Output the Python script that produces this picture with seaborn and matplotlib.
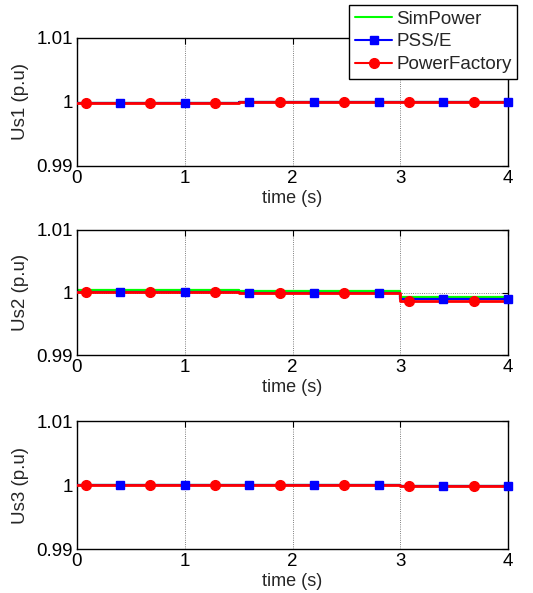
import numpy as np
import pandas as pd
import seaborn as sns
import matplotlib.pyplot as plt
from matplotlib.lines import Line2D

# ---- data ----
seg_edges = [0.0, 1.5, 3.0, 4.0]          # step boundaries (s)

us1_sim = [0.99990, 0.99993, 0.99993]
us1_pss = [0.99985, 1.00000, 1.00000]
us1_pf  = [0.99985, 1.00000, 1.00000]

us2_sim = [1.00035, 1.00022, 0.99930]
us2_pss = [1.00010, 0.99985, 0.99895]
us2_pf  = [1.00005, 0.99985, 0.99865]

us3_sim = [0.99995, 0.99995, 0.99990]
us3_pss = [1.00000, 1.00000, 0.99985]
us3_pf  = [1.00000, 1.00000, 0.99990]

pss_marker_t = [0.4, 1.0, 1.6, 2.2, 2.8, 3.4, 4.0]
pf_marker_t  = [0.08, 0.68, 1.28, 1.88, 2.48, 3.08, 3.68]

ylabels = ["Us1 (p.u)", "Us2 (p.u)", "Us3 (p.u)"]
series_names = ["SimPower", "PSS/E", "PowerFactory"]
xticks = [0, 1, 2, 3, 4]
yticks = [0.99, 1.0, 1.01]
yticklabels = ["0.99", "1", "1.01"]

buses = [(us1_sim, us1_pss, us1_pf), (us2_sim, us2_pss, us2_pf), (us3_sim, us3_pss, us3_pf)]

# ---- style ----
sns.set_style("white")
plt.rcParams['font.family'] = ['Liberation Sans', 'DejaVu Sans']
plt.rcParams['font.size'] = 13

fig = plt.figure(figsize=(5.33, 5.93), dpi=100)
left, width = 77 / 533, (508 - 77) / 533
rows = [(166, 128), (355, 125), (549, 128)]

colors = {"SimPower": "#00ff00", "PSS/E": "#0000ff", "PowerFactory": "#ff0000"}


def step_frame(levels):
    return pd.DataFrame({"t": seg_edges, "v": list(levels) + [levels[-1]]})


def marker_frame(times, levels):
    idx = np.clip(np.searchsorted(seg_edges, times, side="right") - 1, 0, len(levels) - 1)
    return pd.DataFrame({"t": times, "v": np.asarray(levels)[idx]})


axes = []
for i, (bottom_px, h_px) in enumerate(rows):
    ax = fig.add_axes([left, 1 - bottom_px / 593, width, h_px / 593])
    axes.append(ax)
    sim, pss, pf = buses[i]
    sns.lineplot(data=step_frame(sim), x="t", y="v", ax=ax, color=colors["SimPower"],
                 lw=1.6, drawstyle="steps-post", zorder=2)
    sns.lineplot(data=step_frame(pss), x="t", y="v", ax=ax, color=colors["PSS/E"],
                 lw=1.6, drawstyle="steps-post", zorder=3)
    sns.lineplot(data=step_frame(pf), x="t", y="v", ax=ax, color=colors["PowerFactory"],
                 lw=2.0, drawstyle="steps-post", zorder=4)
    mp = marker_frame(pss_marker_t, pss)
    ax.plot(mp["t"], mp["v"], ls="none", marker="s", ms=5.5, color=colors["PSS/E"],
            zorder=5, clip_on=False)
    mf = marker_frame(pf_marker_t, pf)
    ax.plot(mf["t"], mf["v"], ls="none", marker="o", ms=7, color=colors["PowerFactory"],
            zorder=6, clip_on=False)

    ax.set_xlim(0, 4)
    ax.set_ylim(0.99, 1.01)
    ax.set_xticks(xticks)
    ax.set_xticklabels([str(x) for x in xticks])
    ax.set_yticks(yticks)
    ax.set_yticklabels(yticklabels)
    ax.set_xlabel("time (s)", fontsize=13, labelpad=2)
    ax.set_ylabel(ylabels[i], fontsize=13.5, labelpad=5)
    ax.grid(True, ls=":", color="#555555", lw=0.6)
    ax.tick_params(direction="in", length=4, width=0.8, top=True, right=True,
                   labelsize=13.5, pad=3, colors="black")
    for sp in ax.spines.values():
        sp.set_visible(True)
        sp.set_color("black")
        sp.set_linewidth(1.0)

handles = [
    Line2D([], [], color=colors["SimPower"], lw=1.5),
    Line2D([], [], color=colors["PSS/E"], lw=1.5, marker="s", ms=5.5),
    Line2D([], [], color=colors["PowerFactory"], lw=1.5, marker="o", ms=7),
]
leg = fig.legend(handles, series_names, loc="upper right",
                 bbox_to_anchor=(517 / 533, 1 - 5 / 593), frameon=True, fancybox=False,
                 fontsize=13.5, labelspacing=0.3, borderpad=0.3, handlelength=2.0,
                 handletextpad=0.2, borderaxespad=0.0)
leg.get_frame().set_edgecolor("black")
leg.get_frame().set_linewidth(1.0)
leg.get_frame().set_alpha(1.0)

fig.savefig("out.png", dpi=100)
